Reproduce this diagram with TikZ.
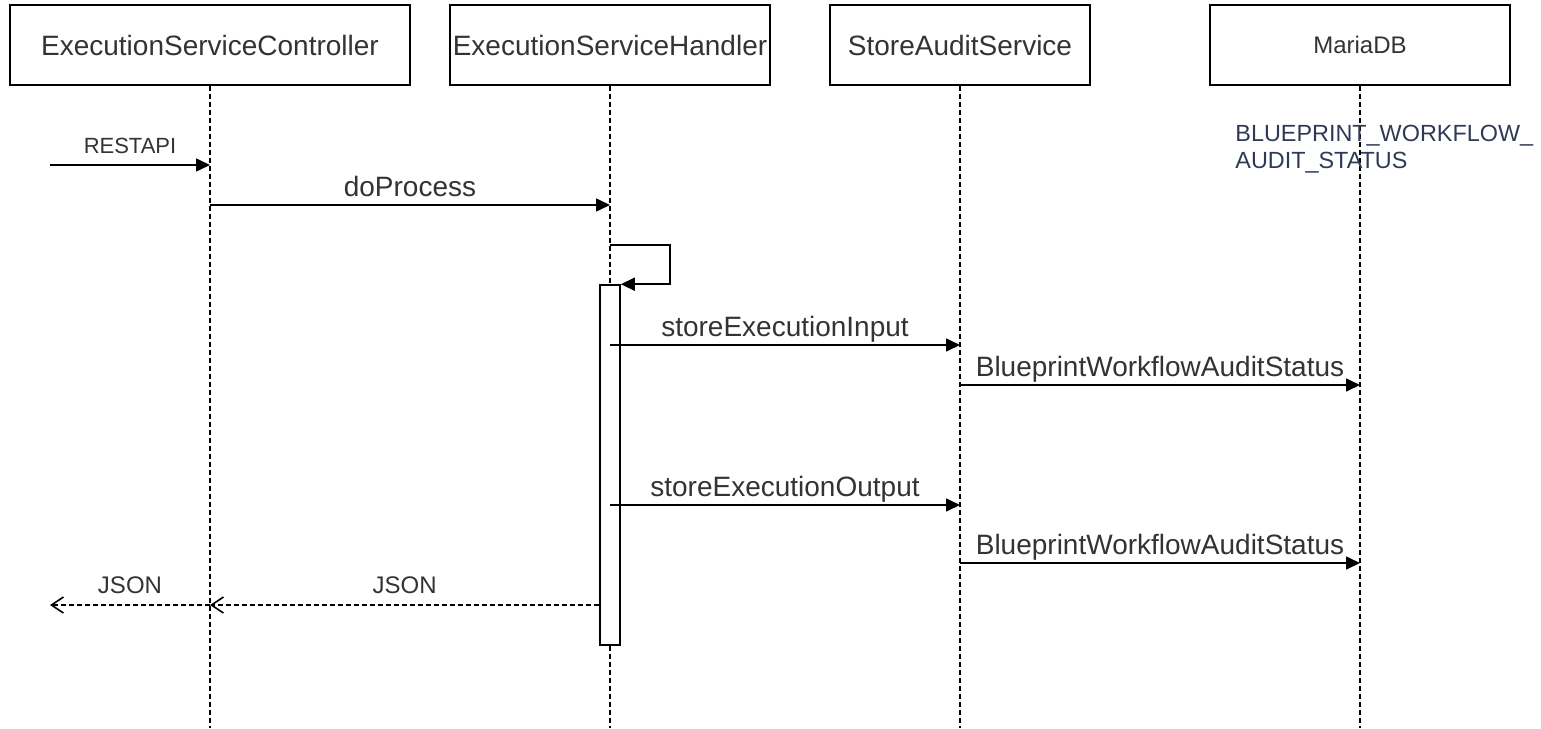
\documentclass[tikz,border=0pt]{standalone}
\usepackage{fontspec}
\setmainfont{Liberation Sans}
\usetikzlibrary{arrows.meta}
\definecolor{labelgray}{HTML}{333333}
\definecolor{tableblue}{HTML}{2E3A55}

\begin{document}
\begin{tikzpicture}[x=0.5pt,y=-0.5pt,
    actor/.style={draw,line width=0.9pt,inner sep=0pt,minimum height=40pt,text=labelgray,font=\fontsize{14}{16}\selectfont},
    lifeline/.style={line width=0.7pt,dash pattern=on 2.5pt off 1.5pt},
    msg/.style={line width=0.8pt,-{Triangle[length=7pt,width=6.5pt]}},
    reply/.style={line width=0.8pt,dash pattern=on 2.5pt off 1.5pt,-{Straight Barb[length=6pt,width=8pt]}},
    big label/.style={anchor=base,yshift=4.5pt,text=labelgray,font=\fontsize{14}{16}\selectfont},
    small label/.style={anchor=base,yshift=6pt,text=labelgray,font=\fontsize{11}{13}\selectfont}]
    \useasboundingbox (0,0) rectangle (1541,728);

    % participants
    \node[actor,minimum width=200pt] (ctl) at (210,45) {ExecutionServiceController};
    \node[actor,minimum width=160pt] (hdl) at (610,45) {ExecutionServiceHandler};
    \node[actor,minimum width=130pt] (sas) at (960,45) {StoreAuditService};
    \node[actor,minimum width=150pt,font=\fontsize{12}{14}\selectfont] (db) at (1360,45) {MariaDB};

    \coordinate (bottom) at (0,728);
    \foreach \n in {ctl,hdl,sas,db}
        \draw[lifeline] (\n.south) -- (\n.south |- bottom);

    \node[anchor=north west,align=left,inner sep=0pt,text=tableblue,font=\fontsize{11.7}{13.5}\selectfont] (table) at (1235,125) {BLUEPRINT\_WORKFLOW\_\\AUDIT\_STATUS};

    % activation of the handler
    \node[draw,fill=white,line width=0.8pt,inner sep=0pt,minimum width=10pt,minimum height=180pt] (act) at (610,465) {};

    % message rows
    \coordinate (client) at (50,165);
    \coordinate (row-doprocess) at (0,205);
    \coordinate (loop) at (670,245);
    \coordinate (row-input) at (0,345);
    \coordinate (row-status1) at (0,385);
    \coordinate (row-output) at (0,505);
    \coordinate (row-status2) at (0,563);
    \coordinate (row-json) at (0,605);
    \coordinate (caller) at (50,605);

    \draw[msg] (hdl |- loop) -- (loop) |- (act.north east);

    \path
        (client) edge[msg] node[small label] {RESTAPI} (ctl |- client)
        (ctl |- row-doprocess) edge[msg] node[big label] {doProcess} (hdl |- row-doprocess)
        (hdl |- row-input) edge[msg] node[big label] {storeExecutionInput} (sas |- row-input)
        (sas |- row-status1) edge[msg] node[big label] {BlueprintWorkflowAuditStatus} (db |- row-status1)
        (hdl |- row-output) edge[msg] node[big label] {storeExecutionOutput} (sas |- row-output)
        (sas |- row-status2) edge[msg] node[big label] {BlueprintWorkflowAuditStatus} (db |- row-status2)
        (act.west |- row-json) edge[reply] node[small label,font=\fontsize{12}{14}\selectfont] {JSON} (ctl |- row-json)
        (ctl |- row-json) edge[reply] node[small label,font=\fontsize{12}{14}\selectfont] {JSON} (caller)
        ;
\end{tikzpicture}
\end{document}
